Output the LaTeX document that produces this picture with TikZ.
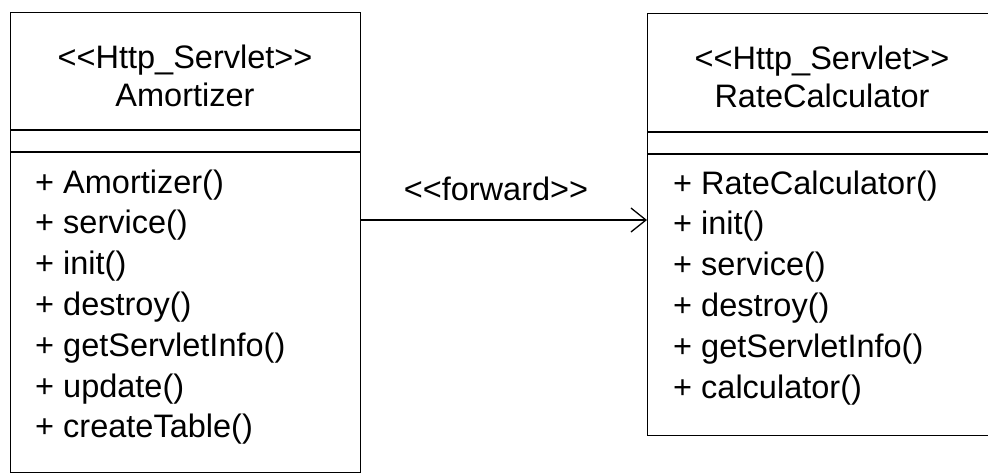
\documentclass[tikz,border=0pt]{standalone}
\usepackage{fontspec}
\setmainfont{Liberation Sans}
\usetikzlibrary{arrows.meta}
\newcommand\stereo[1]{<\kern0pt<#1>\kern0pt>}
\begin{document}
\begin{tikzpicture}[x=1pt,y=-1pt,
	classbox/.style={draw,line width=1.3pt,inner sep=0pt,anchor=north west},
	rule/.style={line width=1.3pt},
	txt/.style={font=\fontsize{32.5}{40.8}\selectfont,inner sep=0pt,anchor=base},
	op/.style={txt,anchor=base west},
	fwdarrow/.style={line width=1.3pt,-{Straight Barb[length=15pt,width=24pt,line width=1.3pt]}}]
			\useasboundingbox (0,0) rectangle (988,475);
			\clip (0,0) rectangle (988,475);
			
			\node[classbox,minimum width=350pt,minimum height=460pt] (amort) at (10,12) {};
			\node[classbox,minimum width=350pt,minimum height=422pt] (rate) at (647,13) {};
			
			\draw[rule] (amort.west |- 0,130) -- (amort.east |- 0,130);
			\draw[rule] (amort.west |- 0,152) -- (amort.east |- 0,152);
			\draw[rule] (rate.west |- 0,132) -- (rate.east |- 0,132);
			\draw[rule] (rate.west |- 0,154) -- (rate.east |- 0,154);
			
			\node[txt] (amortst) at (185,68) {\stereo{Http\_Servlet}};
			\node[txt] (amortname) at (185,106) {Amortizer};
			\node[txt] (ratest) at (822,69) {\stereo{Http\_Servlet}};
			\node[txt] (ratename) at (822,107) {RateCalculator};
			
			\foreach \op [count=\i from 0] in {Amortizer(),service(),init(),destroy(),getServletInfo(),update(),createTable()}
				\node[op] (amortop\i) at (35,{193+40.8*\i}) {+ \op};
			\foreach \op [count=\i from 0] in {RateCalculator(),init(),service(),destroy(),getServletInfo(),calculator()}
				\node[op] (rateop\i) at (673,{194+40.8*\i}) {+ \op};
			
			\coordinate (fwdy) at (0,220);
			\draw[fwdarrow] (amort.east |- fwdy) -- (rate.west |- fwdy);
			\node[txt] (fwd) at (496,200) {\stereo{forward}};
		\end{tikzpicture}
\end{document}
